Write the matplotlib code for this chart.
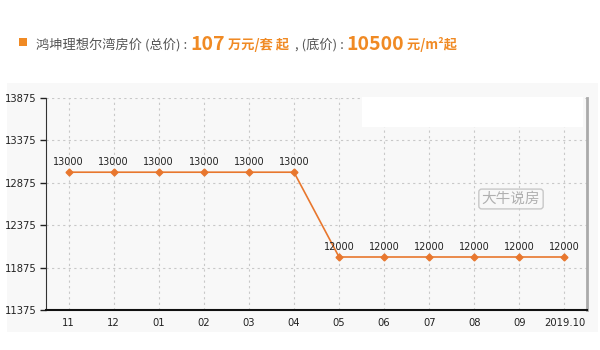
import matplotlib
matplotlib.use("Agg")
import matplotlib.pyplot as plt
from matplotlib.patches import Rectangle

plt.rcParams['font.family'] = ['Noto Sans CJK SC', 'DejaVu Sans']

# === DATA ===
months = ["11", "12", "01", "02", "03", "04", "05", "06", "07", "08", "09", "2019.10"]
prices = [13000, 13000, 13000, 13000, 13000, 13000, 12000, 12000, 12000, 12000, 12000, 12000]
y_ticks = [11375, 11875, 12375, 12875, 13375, 13875]

ORANGE = "#e8772e"
TITLE_ORANGE = "#f08a24"
GRAY_TXT = "#555555"
NUM_FONT = ["DejaVu Sans"]

fig = plt.figure(figsize=(6, 3.5), dpi=100)
fig.patch.set_facecolor("white")

# light panel behind the chart
fig.patches.append(Rectangle((7 / 600, 1 - 332 / 350), 591 / 600, 249 / 350,
                             transform=fig.transFigure, facecolor="#f8f8f8",
                             edgecolor="none", zorder=0))

ax = fig.add_axes([46 / 600, 1 - 310 / 350, 541 / 600, 212 / 350])
ax.set_zorder(1)
ax.set_facecolor("#f8f8f8")
x = list(range(len(months)))
ax.plot(x, prices, color=ORANGE, lw=1.2, marker="D", ms=3.5, zorder=3)
for xi, v in zip(x, prices):
    ax.text(xi, v + 60, str(v), ha="center", va="bottom", fontsize=7,
            color="#222222", family=NUM_FONT)

ax.set_xlim(-0.5, len(months) - 0.5)
ax.set_ylim(y_ticks[0], y_ticks[-1])
ax.set_yticks(y_ticks)
ax.set_xticks(x)
ax.set_xticklabels(months)
ax.tick_params(axis="both", labelsize=7.2, colors="#222222", length=4, width=1)
ax.tick_params(axis="y", pad=2.5)
ax.tick_params(axis="x", length=0, pad=6)
for lbl in ax.get_xticklabels() + ax.get_yticklabels():
    lbl.set_family(NUM_FONT)
ax.grid(True, color="#c8c8c8", ls=(0, (2, 3)), lw=0.8)
ax.spines["top"].set_visible(False)
ax.spines["right"].set_color("#aaaaaa")
ax.spines["right"].set_linewidth(2)
ax.spines["left"].set_color("#333333")
ax.spines["bottom"].set_color("#111111")
ax.spines["bottom"].set_linewidth(1.5)

# white strip top right and watermark
fig.patches.append(Rectangle((362 / 600, 1 - 127 / 350), 221 / 600, 30 / 350,
                             transform=fig.transFigure, facecolor="white",
                             edgecolor="none", zorder=5))
fig.text(511 / 600, 1 - 199 / 350, "大牛说房", fontsize=10.5, color="#b0b0b0",
         ha="center", va="center", zorder=6,
         bbox=dict(boxstyle="round,pad=0.2", fc="none", ec="#c8c8c8", lw=1))

# title line built from pieces
fig.patches.append(Rectangle((19 / 600, 1 - 46 / 350), 8 / 600, 8 / 350,
                             transform=fig.transFigure, facecolor=TITLE_ORANGE,
                             edgecolor="none"))
pieces = [
    ("鸿坤理想尔湾房价 (总价) : ", GRAY_TXT, 9.5, "normal"),
    ("107", TITLE_ORANGE, 14, "bold"),
    (" 万元/套 起", TITLE_ORANGE, 9.5, "bold"),
    ("  , (底价) : ", GRAY_TXT, 9.5, "normal"),
    ("10500", TITLE_ORANGE, 14, "bold"),
    (" 元/m²起", TITLE_ORANGE, 9.5, "bold"),
]
fig.canvas.draw()
renderer = fig.canvas.get_renderer()
xpos = 36 / 600
ypos = 1 - 43 / 350
for txt, col, size, weight in pieces:
    t = fig.text(xpos, ypos, txt, color=col, fontsize=size, fontweight=weight,
                 va="center_baseline", ha="left")
    bb = t.get_window_extent(renderer=renderer)
    xpos += bb.width / fig.bbox.width

fig.savefig("out.png", dpi=100)
